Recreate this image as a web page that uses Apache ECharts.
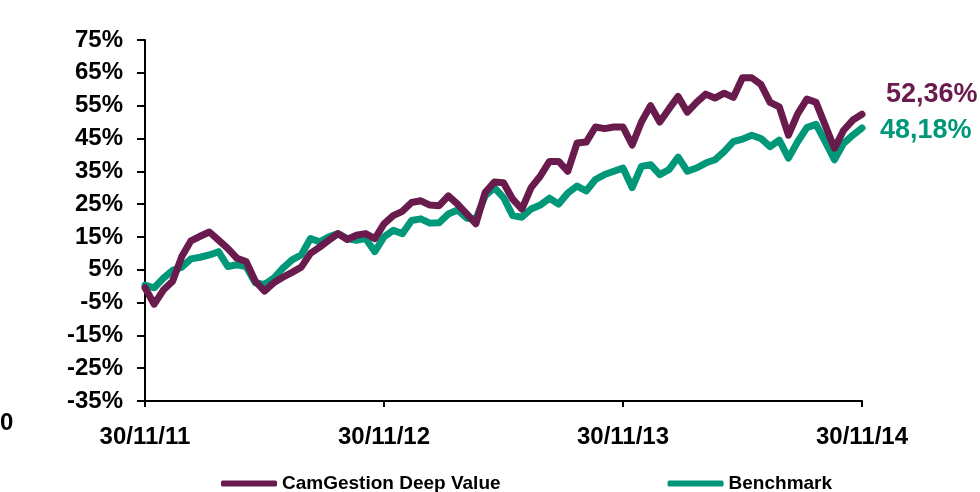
<!DOCTYPE html>
<html style="height: 100%">
  <head>
    <meta charset="utf-8">
  </head>
  <body style="height: 100%; margin: 0; background: #fff">
    <div id="container" style="width: 980px; height: 492px"></div>
    <script type="text/javascript" src="https://cdn.jsdelivr.net/npm/echarts@6/dist/echarts.min.js"></script>
    <script type="text/javascript">
      // one point every 2 weeks, 30/11/11 -> 30/11/14
      let deepValue = [
        -0.5, -5.5, -1.2, 1.5, 9, 13.8, 15.2, 16.5, 14, 11.5,
        8.5, 7.5, 1.5, -1.5, 1, 2.7, 4.2, 5.8, 10, 11.9,
        14, 16, 14.2, 15.5, 16, 14.5, 19, 21.5, 22.8, 25.5,
        26, 24.7, 24.5, 27.5, 25, 22, 19, 28.5, 31.7, 31.5,
        26.5, 23.5, 30, 33.5, 38, 38, 35, 43.6, 43.9, 48.5,
        48, 48.5, 48.5, 43, 50, 55, 50, 54, 57.8, 53,
        56, 58.5, 57.3, 58.8, 57.5, 63.5, 63.5, 61.5, 56, 54.6,
        46, 52.5, 57, 56, 49, 42, 47.5, 50.6, 52.36
      ];
      let benchmark = [
        0.3, -0.5, 2.4, 4.8, 5.8, 8.3, 8.8, 9.5, 10.5, 6,
        6.5, 6, 1, 0.5, 2.4, 5.5, 8, 9.5, 14.5, 13.5,
        15, 16, 14.5, 14, 14.5, 10.5, 15, 17, 16, 20,
        20.5, 19.2, 19.3, 22, 23.2, 20.7, 20.5, 27.5, 30, 27,
        21.5, 21, 23.5, 24.7, 26.8, 25, 28.4, 30.5, 29, 32.5,
        34, 35, 36, 30, 36.5, 37, 34, 35.5, 39.3, 35,
        36, 37.5, 38.5, 41, 44, 44.8, 46, 45, 42.5, 44.5,
        39, 44, 48.3, 49.3, 44, 38.5, 43.5, 46, 48.18
      ];
      let xLabels = ['30/11/11', '30/11/12', '30/11/13', '30/11/14'];
      let xTicks = [0, 26, 52, 78];
      let yTicks = [-35, -25, -15, -5, 5, 15, 25, 35, 45, 55, 65, 75];

      let purple = '#6a1b4d';
      let green = '#009878';
      let font = 'Liberation Sans, Arial, sans-serif';

      function pairs(arr) {
        return arr.map(function (v, i) { return [i, v]; });
      }
      function pct(v) {
        return v.toFixed(2).replace('.', ',') + '%';
      }

      let myChart = echarts.init(document.getElementById('container'));
      let option = {
        animation: false,
        grid: { left: 145, right: 118, top: 40, bottom: 91, containLabel: false },
        xAxis: {
          type: 'value',
          min: 0,
          max: 78,
          splitLine: { show: false },
          axisLine: { onZero: false, lineStyle: { color: '#000', width: 2 } },
          axisTick: { show: true, length: 6, customValues: xTicks, lineStyle: { color: '#000', width: 2 } },
          axisLabel: {
            customValues: xTicks,
            margin: 24,
            color: '#000',
            fontFamily: font,
            fontWeight: 'bold',
            fontSize: 24,
            formatter: function (v) { return xLabels[xTicks.indexOf(v)]; }
          }
        },
        yAxis: {
          type: 'value',
          min: -35,
          max: 75,
          splitLine: { show: false },
          axisLine: { show: true, lineStyle: { color: '#000', width: 2 } },
          axisTick: { show: true, length: 8, customValues: yTicks, lineStyle: { color: '#000', width: 2 } },
          axisLabel: {
            customValues: yTicks,
            margin: 22,
            color: '#000',
            fontFamily: font,
            fontWeight: 'bold',
            fontSize: 24,
            formatter: function (v) { return v + '%'; }
          }
        },
        legend: {
          left: 216,
          top: 469,
          itemGap: 167,
          itemWidth: 56,
          itemHeight: 6,
          icon: 'roundRect',
          textStyle: { color: '#000', fontFamily: font, fontWeight: 'bold', fontSize: 19 },
          data: ['CamGestion Deep Value', 'Benchmark']
        },
        series: [{
          name: 'Benchmark',
          type: 'line',
          data: pairs(benchmark),
          showSymbol: false,
          color: green,
          lineStyle: { width: 7, color: green, cap: 'round', join: 'round' },
          endLabel: {
            show: true,
            distance: 18,
            offset: [0, 3],
            color: green,
            fontFamily: font,
            fontWeight: 'bold',
            fontSize: 27,
            formatter: function (p) { return pct(p.value[1]); }
          }
        }, {
          name: 'CamGestion Deep Value',
          type: 'line',
          data: pairs(deepValue),
          showSymbol: false,
          color: purple,
          lineStyle: { width: 7, color: purple, cap: 'round', join: 'round' },
          endLabel: {
            show: true,
            distance: 24,
            offset: [0, -20],
            color: purple,
            fontFamily: font,
            fontWeight: 'bold',
            fontSize: 27,
            formatter: function (p) { return pct(p.value[1]); }
          }
        }],
        graphic: [{
          type: 'text',
          left: 0,
          top: 411,
          style: { text: '0', fill: '#000', font: 'bold 24px ' + font }
        }]
      };
      myChart.setOption(option);
    </script>
  </body>
</html>
